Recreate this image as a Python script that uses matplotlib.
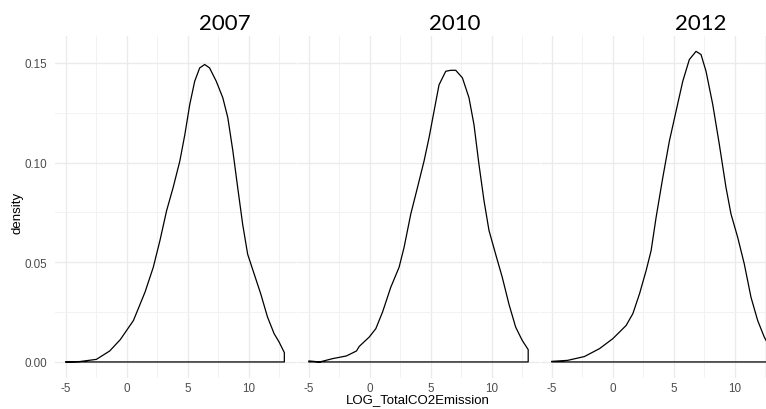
import matplotlib
matplotlib.use("Agg")
import matplotlib.pyplot as plt
from matplotlib.ticker import FixedLocator

years = ["2007", "2010", "2012"]

x_2007 = [-5.0, -3.86, -2.5, -1.41, -0.54, 0.54, 1.49, 2.17, 2.72, 3.26, 3.8, 4.35, 4.76, 5.16, 5.57, 5.98, 6.39, 6.79, 7.34, 7.88, 8.29, 8.7, 9.1, 9.51, 9.92, 10.46, 11.0, 11.55, 12.09, 12.5, 12.93]
y_2007 = [0.0, 0.0002, 0.0013, 0.0055, 0.0112, 0.0208, 0.035, 0.0475, 0.061, 0.0758, 0.0875, 0.1008, 0.114, 0.129, 0.1408, 0.1475, 0.1492, 0.1475, 0.1408, 0.1325, 0.1225, 0.106, 0.0875, 0.069, 0.054, 0.044, 0.034, 0.0225, 0.0142, 0.01, 0.0047]

x_2010 = [-5.0, -4.12, -3.03, -1.93, -1.1, -0.87, -0.05, 0.49, 1.04, 1.72, 2.4, 2.81, 3.36, 3.91, 4.45, 4.86, 5.27, 5.68, 6.23, 6.64, 7.05, 7.6, 8.14, 8.55, 8.96, 9.37, 9.78, 10.33, 10.87, 11.42, 11.97, 12.51, 13.0]
y_2010 = [0.0005, 0.0, 0.0017, 0.003, 0.0055, 0.0078, 0.0125, 0.0167, 0.025, 0.0375, 0.0475, 0.0575, 0.0742, 0.0875, 0.1008, 0.1125, 0.1258, 0.139, 0.1458, 0.1463, 0.1463, 0.1425, 0.1325, 0.119, 0.099, 0.081, 0.066, 0.054, 0.0425, 0.029, 0.0175, 0.0108, 0.0062]

x_2012 = [-5.0, -3.71, -2.34, -1.09, 0.0, 1.09, 1.64, 2.19, 2.73, 3.14, 3.55, 4.1, 4.64, 5.19, 5.74, 6.28, 6.83, 7.24, 7.65, 8.2, 8.74, 9.29, 9.7, 10.25, 10.79, 11.34, 11.89, 12.43, 13.0]
y_2012 = [0.0003, 0.0008, 0.0027, 0.0067, 0.0117, 0.0183, 0.0242, 0.0342, 0.0458, 0.0558, 0.0725, 0.0925, 0.1108, 0.1258, 0.1408, 0.1517, 0.1558, 0.1542, 0.1458, 0.1292, 0.1092, 0.0875, 0.0742, 0.0625, 0.0492, 0.0325, 0.0208, 0.0125, 0.006]

series = [(x_2007, y_2007), (x_2010, y_2010), (x_2012, y_2012)]

x_major = [-5, 0, 5, 10]
y_major = [0.0, 0.05, 0.10, 0.15]
y_labels = ["0.00", "0.05", "0.10", "0.15"]
x_labels = ["-5", "0", "5", "10"]

W, H = 766, 410
fig = plt.figure(figsize=(W / 100, H / 100), dpi=100)

xlim = (-5.9, 13.97)
ylim = (-0.0078, 0.1635)
lefts = [55, 298, 541]
panel_w = 242
bottom_px = 378.5
top_px = 37
title_x = [224.5, 454.5, 701]

label_font = "Liberation Sans"
tick_color = "#4D4D4D"

for i, (xs, ys) in enumerate(series):
    ax = fig.add_axes([lefts[i] / W, (H - bottom_px) / H, panel_w / W, (bottom_px - top_px) / H])
    ax.set_xlim(*xlim)
    ax.set_ylim(*ylim)
    for s in ax.spines.values():
        s.set_visible(False)
    ax.xaxis.set_major_locator(FixedLocator(x_major))
    ax.xaxis.set_minor_locator(FixedLocator([-2.5, 2.5, 7.5, 12.5]))
    ax.yaxis.set_major_locator(FixedLocator(y_major))
    ax.yaxis.set_minor_locator(FixedLocator([0.025, 0.075, 0.125]))
    ax.grid(which="major", color="#EBEBEB", linewidth=1.0)
    ax.grid(which="minor", color="#F2F2F2", linewidth=0.7)
    ax.set_axisbelow(True)
    ax.tick_params(which="both", length=0)
    ax.tick_params(axis="x", pad=3.5)
    ax.tick_params(axis="y", pad=6)
    ax.set_xticklabels(x_labels, fontsize=8.4, color=tick_color, family=label_font)
    if i == 0:
        ax.set_yticklabels(y_labels, fontsize=8.4, color=tick_color, family=label_font)
    else:
        ax.set_yticklabels([])
    # density outline: curve, drop at right end, baseline
    px = list(xs) + [xs[-1], xs[0]]
    py = list(ys) + [0.0, 0.0]
    ax.plot(px, py, color="black", linewidth=0.9, clip_on=False, solid_joinstyle="round")
    fig.text(title_x[i] / W, 1 - 23.5 / H, years[i], ha="center", va="center",
             fontsize=16, family="Lato", color="black")

fig.text(418 / W, 1 - 400.5 / H, "LOG_TotalCO2Emission", ha="center", va="center",
         fontsize=9.5, family=label_font, color="black")
fig.text(17 / W, 1 - 213 / H, "density", ha="center", va="center", rotation=90,
         fontsize=9.5, family=label_font, color="black")

fig.savefig("out.png", dpi=100)
